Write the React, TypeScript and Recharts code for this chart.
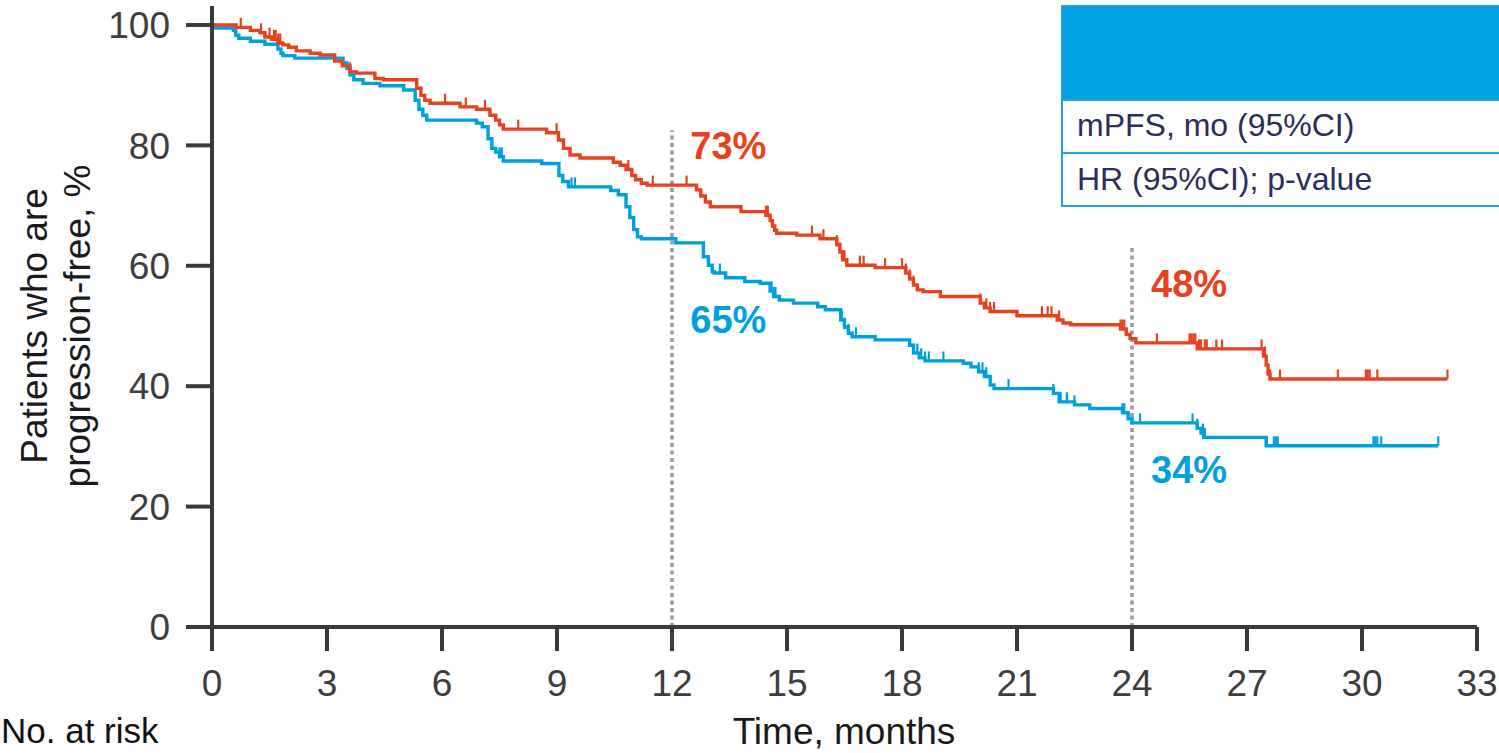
import React from 'react';
import {
  ComposedChart,
  Line,
  Scatter,
  XAxis,
  YAxis,
  ReferenceLine,
  ReferenceDot,
} from 'recharts';

// ---- Data ----
const xTicks = [0, 3, 6, 9, 12, 15, 18, 21, 24, 27, 30, 33];
const yTicks = [0, 20, 40, 60, 80, 100];

const redTimes = [
  0, 0.63, 1.0, 1.25, 1.38, 1.55, 1.72, 1.85, 2.0, 2.2, 2.56, 2.82, 3.2, 3.4, 3.6, 3.77,
  4.25, 4.47, 5.34, 5.45, 5.55, 5.69, 6.47, 6.9, 7.25, 7.4, 7.5, 7.6, 8.73, 9.04, 9.17,
  9.34, 9.6, 10.47, 10.65, 10.8, 10.95, 11.05, 11.2, 11.35, 12.64, 12.75, 12.87, 13.0,
  13.8, 14.45, 14.56, 14.62, 14.68, 14.73, 15.25, 15.86, 16.3, 16.38, 16.45, 16.56, 17.3,
  18.1, 18.2, 18.3, 18.4, 18.55, 19.0, 20.04, 20.15, 20.3, 21.0, 22.05, 22.2, 22.4, 23.7,
  23.85, 23.95, 24.1, 25.7, 27.43, 27.5, 27.55, 27.6, 32.23,
];
const redSurvival = [
  100, 99.6, 99.1, 98.7, 98.0, 97.6, 97.0, 96.7, 96.3, 95.7, 95.3, 95.0, 94.0, 93.2, 92.2, 92.0,
  91.1, 90.9, 89.5, 88.3, 87.5, 87.0, 86.4, 86.0, 85.0, 84.2, 83.4, 82.7, 82.1, 80.9, 79.5,
  78.4, 77.9, 77.2, 76.7, 76.0, 75.0, 74.3, 73.7, 73.4, 72.6, 71.6, 70.6, 69.8,
  69.0, 68.4, 67.5, 66.6, 65.9, 65.4, 65.1, 64.5, 63.5, 62.3, 61.0, 60.1, 59.7,
  58.8, 57.8, 56.8, 56.0, 55.7, 54.9, 53.8, 53.0, 52.4, 51.7, 51.0, 50.5, 50.2, 49.5,
  48.6, 47.9, 47.2, 46.2, 45.0, 43.5, 42.0, 41.2, 41.2,
];

const blueTimes = [
  0, 0.05, 0.56, 0.62, 0.7, 1.0, 1.38, 1.72, 1.8, 1.85, 2.16, 3.42, 3.52, 3.6, 3.7, 3.94,
  4.38, 5.0, 5.3, 5.4, 5.5, 5.6, 6.9, 7.05, 7.2, 7.3, 7.4, 7.5, 7.6, 8.6, 9.05, 9.15, 9.3,
  10.4, 10.6, 10.8, 10.9, 11.0, 11.1, 11.2, 12.1, 12.82, 12.95, 13.05, 13.1, 13.4, 13.9,
  14.3, 14.56, 14.65, 14.8, 15.17, 15.8, 16.0, 16.4, 16.5, 16.6, 16.7, 17.3, 18.2, 18.3,
  18.45, 18.6, 19.6, 19.8, 20.0, 20.15, 20.3, 20.4, 21.95, 22.1, 22.5, 22.9, 23.75, 23.9,
  24.0, 25.7, 25.8, 25.87, 27.5, 31.99,
];
const blueSurvival = [
  100, 99.5, 99.1, 98.3, 97.8, 97.3, 96.8, 96.0, 95.3, 94.9, 94.5, 93.7, 92.8, 91.7, 90.9, 90.3,
  89.9, 89.2, 87.5, 86.0, 85.0, 84.2, 83.7, 83.1, 81.1, 79.5, 78.9, 78.1, 77.4, 77.0, 75.0, 74.0, 73.1,
  72.5, 71.8, 69.8, 68.0, 66.0, 64.8, 64.5, 63.8, 61.5, 60.1, 59.0, 58.8, 58.0, 57.4,
  57.1, 55.8, 54.9, 54.3, 53.8, 53.2, 52.7, 51.0, 49.8, 48.8, 48.2, 47.7, 46.8, 45.5,
  44.7, 44.2, 43.8, 43.2, 42.4, 41.6, 40.2, 39.6, 38.8, 37.4, 36.9, 36.3, 35.6, 34.6,
  33.9, 33.0, 32.2, 31.5, 30.1, 30.1,
];

const redCensorTimes = [
  0.75, 1.28, 1.5, 1.62, 1.66, 1.72, 1.78, 3.6, 6.08, 6.62, 7.12, 7.99, 8.99, 10.86, 11.5,
  12.38, 14.45, 14.5, 15.65, 15.95, 16.3, 16.38, 16.45, 16.5, 16.9, 17.0, 17.56, 18.0, 18.1,
  18.2, 18.3, 20.04, 20.2, 20.3, 20.4, 21.65, 21.8, 21.9, 22.1, 23.7, 23.75, 23.8, 24.65,
  25.5, 25.55, 25.6, 25.65, 25.75, 25.8, 25.9, 25.95, 26.2, 26.35, 27.38, 27.47, 27.6, 27.86,
  29.37, 30.1, 30.15, 30.2, 30.4, 32.23,
];
const blueCensorTimes = [
  7.5, 7.56, 9.38, 9.47, 10.9, 13.25, 14.6, 14.65, 14.7, 16.43, 16.5, 16.6, 16.8, 18.3, 18.4,
  18.5, 18.6, 18.7, 19.08, 20.0, 20.1, 20.2, 20.3, 20.78, 21.95, 22.14, 22.3, 22.5, 23.75,
  23.8, 24.21, 25.58, 25.7, 25.85, 25.9, 27.52, 27.7, 27.75, 27.8, 30.3, 30.35, 30.4, 30.5,
  31.99,
];

const landmarkTimes = [12, 24];
const landmarkTops = [82.5, 63.5];
const redLandmarkLabels = ['73%', '48%'];
const blueLandmarkLabels = ['65%', '34%'];
const redLabelY = [79.9, 57.1];
const blueLabelY = [51.0, 26.2];
const labelX = [13.47, 25.49];

const legendRows = ['mPFS, mo (95%CI)', 'HR (95%CI); p-value'];

// ---- Styles ----
const RED = '#e8411e';
const BLUE = '#00a0e0';
const AXIS = '#3a3a3a';
const FONT = '"Liberation Sans", Arial, sans-serif';

const stepValue = (times: number[], vals: number[], t: number) => {
  let v = vals[0];
  for (let i = 0; i < times.length; i++) {
    if (times[i] <= t + 1e-9) v = vals[i];
    else break;
  }
  return v;
};

const redData = redTimes.map((t, i) => ({ t, v: redSurvival[i] }));
const blueData = blueTimes.map((t, i) => ({ t, v: blueSurvival[i] }));
const redCensor = redCensorTimes.map((t) => ({ t, v: stepValue(redTimes, redSurvival, t) }));
const blueCensor = blueCensorTimes.map((t) => ({ t, v: stepValue(blueTimes, blueSurvival, t) }));

const makeCensor = (color: string) => (props: any) => {
  const { cx, cy } = props;
  if (cx == null || cy == null) return <g />;
  return <line x1={cx} x2={cx} y1={cy} y2={cy - 9.5} stroke={color} strokeWidth={2.2} />;
};

const YLabel = () => (
  <text
    transform="translate(47, 326) rotate(-90)"
    textAnchor="middle"
    fontSize={37}
    fill="#1a1a1a"
    fontFamily={FONT}
  >
    <tspan x={0} y={0}>Patients who are</tspan>
    <tspan x={0} y={43}>progression-free, %</tspan>
  </text>
);

const XLabel = () => (
  <text x={844} y={744} textAnchor="middle" fontSize={37} fill="#1a1a1a" fontFamily={FONT}>
    Time, months
  </text>
);

export default function App() {
  return (
    <div
      style={{
        position: 'absolute',
        left: 0,
        top: 0,
        width: 1499,
        height: 753,
        overflow: 'hidden',
        background: '#fff',
        fontFamily: FONT,
      }}
    >
      <ComposedChart
        width={1499}
        height={753}
        margin={{ top: 6, right: 22, bottom: 66, left: 0 }}
        style={{ fontFamily: FONT }}
      >
        <XAxis
          dataKey="t"
          type="number"
          domain={[0, 33]}
          ticks={xTicks}
          allowDataOverflow
          height={60}
          axisLine={{ stroke: AXIS, strokeWidth: 4 }}
          tickLine={{ stroke: AXIS, strokeWidth: 4 }}
          tickSize={24}
          tickMargin={19}
          tick={{ fill: '#3d3d3d', fontSize: 37, fontFamily: FONT }}
          label={<XLabel />}
        />
        <YAxis
          type="number"
          domain={[0, 103.15]}
          ticks={yTicks}
          allowDataOverflow
          width={212}
          axisLine={{ stroke: AXIS, strokeWidth: 4 }}
          tickLine={{ stroke: AXIS, strokeWidth: 4 }}
          tickSize={26}
          tickMargin={16}
          tick={{ fill: '#3d3d3d', fontSize: 37, fontFamily: FONT }}
          label={<YLabel />}
        />
        {landmarkTimes.map((t, i) => (
          <ReferenceLine
            key={'lm' + i}
            segment={[
              { x: t, y: 0 },
              { x: t, y: landmarkTops[i] },
            ]}
            stroke="#999999"
            strokeWidth={3.5}
            strokeDasharray="4 3.5"
          />
        ))}
        <Line
          data={blueData}
          dataKey="v"
          type="stepAfter"
          stroke={BLUE}
          strokeWidth={3.4}
          dot={false}
          activeDot={false}
          isAnimationActive={false}
        />
        <Line
          data={redData}
          dataKey="v"
          type="stepAfter"
          stroke={RED}
          strokeWidth={3.4}
          dot={false}
          activeDot={false}
          isAnimationActive={false}
        />
        <Scatter
          data={blueCensor}
          dataKey="v"
          shape={makeCensor(BLUE)}
          isAnimationActive={false}
        />
        <Scatter
          data={redCensor}
          dataKey="v"
          shape={makeCensor(RED)}
          isAnimationActive={false}
        />
        {labelX.map((x, i) => (
          <ReferenceDot
            key={'rl' + i}
            x={x}
            y={redLabelY[i]}
            r={1}
            fill="none"
            stroke="none"
            label={{
              value: redLandmarkLabels[i],
              position: 'center',
              fill: RED,
              fontSize: 38,
              fontWeight: 'bold',
              fontFamily: FONT,
            }}
          />
        ))}
        {labelX.map((x, i) => (
          <ReferenceDot
            key={'bl' + i}
            x={x}
            y={blueLabelY[i]}
            r={1}
            fill="none"
            stroke="none"
            label={{
              value: blueLandmarkLabels[i],
              position: 'center',
              fill: BLUE,
              fontSize: 38,
              fontWeight: 'bold',
              fontFamily: FONT,
            }}
          />
        ))}
      </ComposedChart>
      <svg
        width={1499}
        height={753}
        style={{ position: 'absolute', left: 0, top: 0, pointerEvents: 'none' }}
      >
        <rect x={1062} y={6} width={500} height={94} fill="#00a1df" />
        <rect x={1062} y={6} width={500} height={200} fill="none" stroke="#1fa4dc" strokeWidth={2} />
        <line x1={1062} x2={1562} y1={100} y2={100} stroke="#1fa4dc" strokeWidth={2} />
        <line x1={1062} x2={1562} y1={153} y2={153} stroke="#1fa4dc" strokeWidth={2} />
        {legendRows.map((r, i) => (
          <text
            key={r}
            x={1077}
            y={136 + i * 54}
            fontSize={32}
            fill="#2b2d5e"
            fontFamily={FONT}
          >
            {r}
          </text>
        ))}
        <text x={1} y={743} fontSize={35} fill="#111" fontFamily={FONT}>
          No. at risk
        </text>
      </svg>
    </div>
  );
}
